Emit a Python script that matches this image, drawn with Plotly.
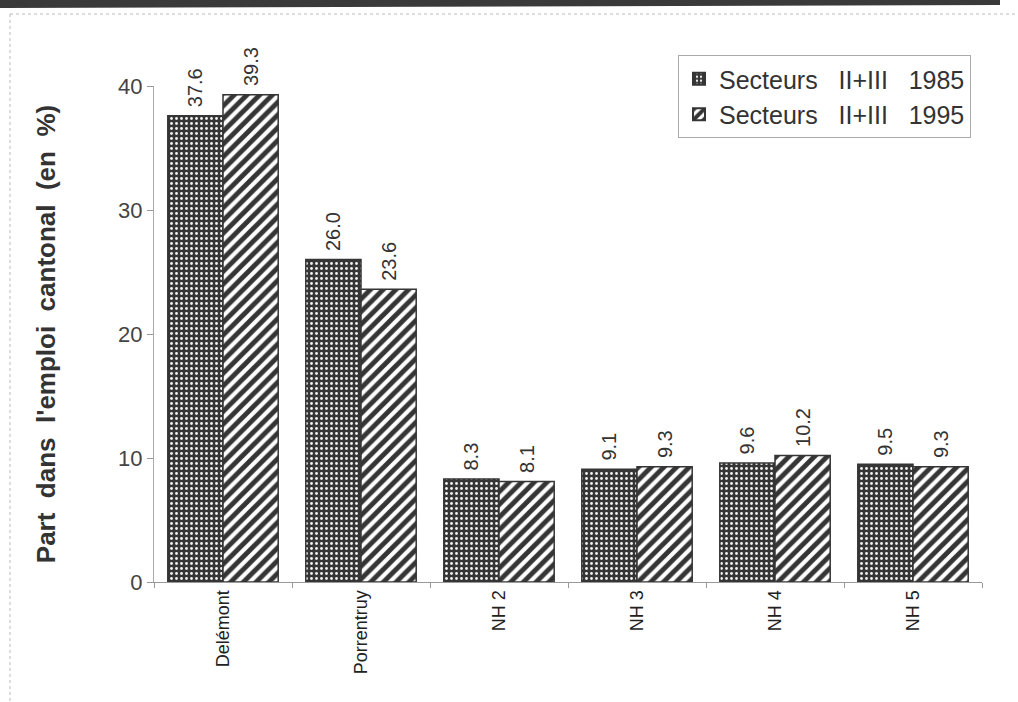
import plotly.graph_objects as go

# Employment share by region (percent of cantonal employment)
regions = ["Delémont", "Porrentruy", "NH 2", "NH 3", "NH 4", "NH 5"]
share_1985 = [37.6, 26.0, 8.3, 9.1, 9.6, 9.5]
share_1995 = [39.3, 23.6, 8.1, 9.3, 10.2, 9.3]
series_names = ["Secteurs\u00a0\u00a0\u00a0II+III\u00a0\u00a0\u00a01985",
                "Secteurs\u00a0\u00a0\u00a0II+III\u00a0\u00a0\u00a01995"]
y_ticks = [0, 10, 20, 30, 40]

W, H = 1018, 702
L, R, T, B = 154, 36, 86, 120
plot_w = W - L - R
plot_h = H - T - B


def px_x(px):
    return (px - L) / plot_w


def px_y(py):
    return (H - B - py) / plot_h


DARK = "#353535"
TXT = "#333333"
FONT = "Liberation Sans, Arial, sans-serif"
LABEL_PAD = "\u00a0"

fig = go.Figure()

fig.add_trace(go.Bar(
    x=regions, y=share_1985, name=series_names[0],
    marker=dict(
        color=DARK,
        line=dict(color=DARK, width=1.5),
        pattern=dict(shape=".", fgcolor="#f2f2f2", bgcolor=DARK,
                     size=5, solidity=0.25, fillmode="replace"),
    ),
    texttemplate=LABEL_PAD + "%{y:.1f}", textposition="outside", textangle=-90,
    textfont=dict(size=20, color=TXT, family=FONT),
    cliponaxis=False,
))

fig.add_trace(go.Bar(
    x=regions, y=share_1995, name=series_names[1],
    marker=dict(
        color="white",
        line=dict(color=DARK, width=1.5),
        pattern=dict(shape="/", fgcolor=DARK, bgcolor="white",
                     size=9, solidity=0.55, fillmode="replace"),
    ),
    texttemplate=LABEL_PAD + "%{y:.1f}", textposition="outside", textangle=-90,
    textfont=dict(size=20, color=TXT, family=FONT),
    cliponaxis=False,
))

shapes = [
    # heavy rule across the top of the page
    dict(type="path", xref="paper", yref="paper",
         path=(f"M {px_x(0)},{px_y(0)} L {px_x(1000)},{px_y(0)} "
               f"L {px_x(1000)},{px_y(5)} L {px_x(0)},{px_y(8)} Z"),
         fillcolor="#3a3a3a", line=dict(width=0), layer="above"),
    # thin frame lines
    dict(type="line", xref="paper", yref="paper",
         x0=px_x(10), x1=px_x(1018), y0=px_y(14), y1=px_y(14),
         line=dict(color="#bbbbbb", width=1, dash="dot")),
    dict(type="line", xref="paper", yref="paper",
         x0=px_x(10), x1=px_x(10), y0=px_y(14), y1=px_y(702),
         line=dict(color="#bbbbbb", width=1, dash="dot")),
]

title_text = "\u00a0\u00a0".join(["Part", "dans", "l'emploi", "cantonal", "(en", "%)"])

fig.update_layout(
    width=W, height=H,
    margin=dict(l=L, r=R, t=T, b=B),
    paper_bgcolor="white", plot_bgcolor="white",
    barmode="group", bargap=0.2, bargroupgap=0,
    font=dict(family=FONT, color=TXT),
    showlegend=True,
    legend=dict(
        x=px_x(678), y=px_y(55), xanchor="left", yanchor="top",
        bordercolor="#aaaaaa", borderwidth=1, bgcolor="white",
        font=dict(size=25, color=TXT, family=FONT),
        tracegroupgap=0, itemsizing="constant", itemwidth=30,
    ),
    xaxis=dict(
        showline=True, linecolor="#999999", linewidth=1,
        ticks="outside", ticklen=5, tickcolor="#999999",
        tickson="boundaries", tickangle=-90,
        tickfont=dict(size=18, color="#222222", family=FONT),
        showgrid=False,
    ),
    yaxis=dict(
        range=[0, 40], tickvals=y_ticks,
        showline=True, linecolor="#aaaaaa", linewidth=1,
        ticks="outside", ticklen=6, tickcolor="#999999",
        tickfont=dict(size=22, color="#444444", family=FONT),
        showgrid=False, zeroline=False,
        title=dict(
            text="<b>" + title_text + "</b>",
            font=dict(size=26, color="#333333", family=FONT),
            standoff=55,
        ),
    ),
    shapes=shapes,
)

fig.write_html("out.html")
